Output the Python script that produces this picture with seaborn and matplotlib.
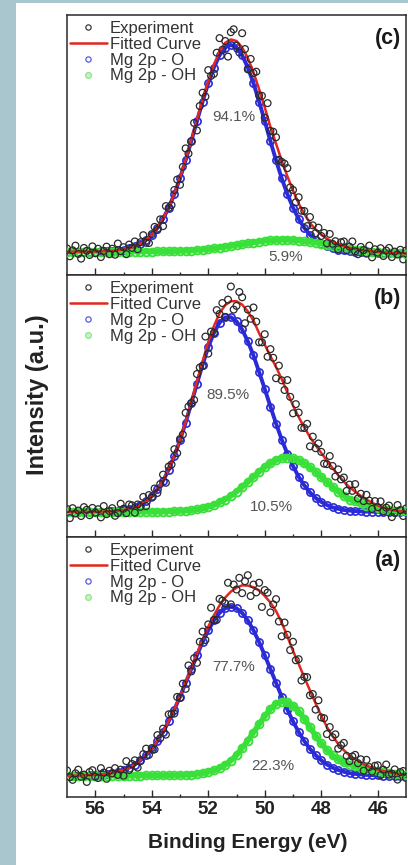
import matplotlib
matplotlib.use("Agg")
import numpy as np
import pandas as pd
import matplotlib.pyplot as plt
from matplotlib.lines import Line2D
from matplotlib.patches import Rectangle
import seaborn as sns

# ---------------- data ----------------
energy_fit = [57.0, 56.8, 56.6, 56.4, 56.2, 56.0, 55.8, 55.6, 55.4, 55.2,
              55.0, 54.8, 54.6, 54.4, 54.2, 54.0, 53.8, 53.6, 53.4, 53.2,
              53.0, 52.8, 52.6, 52.4, 52.2, 52.0, 51.8, 51.6, 51.4, 51.2,
              51.0, 50.8, 50.6, 50.4, 50.2, 50.0, 49.8, 49.6, 49.4, 49.2,
              49.0, 48.8, 48.6, 48.4, 48.2, 48.0, 47.8, 47.6, 47.4, 47.2,
              47.0, 46.8, 46.6, 46.4, 46.2, 46.0, 45.8, 45.6, 45.4, 45.2, 45.0]

energy_exp = [57.0, 56.9, 56.8, 56.7, 56.6, 56.5, 56.4, 56.3, 56.2, 56.1,
              56.0, 55.9, 55.8, 55.7, 55.6, 55.5, 55.4, 55.3, 55.2, 55.1,
              55.0, 54.9, 54.8, 54.7, 54.6, 54.5, 54.4, 54.3, 54.2, 54.1,
              54.0, 53.9, 53.8, 53.7, 53.6, 53.5, 53.4, 53.3, 53.2, 53.1,
              53.0, 52.9, 52.8, 52.7, 52.6, 52.5, 52.4, 52.3, 52.2, 52.1,
              52.0, 51.9, 51.8, 51.7, 51.6, 51.5, 51.4, 51.3, 51.2, 51.1,
              51.0, 50.9, 50.8, 50.7, 50.6, 50.5, 50.4, 50.3, 50.2, 50.1,
              50.0, 49.9, 49.8, 49.7, 49.6, 49.5, 49.4, 49.3, 49.2, 49.1,
              49.0, 48.9, 48.8, 48.7, 48.6, 48.5, 48.4, 48.3, 48.2, 48.1,
              48.0, 47.9, 47.8, 47.7, 47.6, 47.5, 47.4, 47.3, 47.2, 47.1,
              47.0, 46.9, 46.8, 46.7, 46.6, 46.5, 46.4, 46.3, 46.2, 46.1,
              46.0, 45.9, 45.8, 45.7, 45.6, 45.5, 45.4, 45.3, 45.2, 45.1, 45.0]

# panel (c)
c_exp = [10.2, 7.2, 9.5, 11.3, 8.1, 6.3, 10.4, 9.3, 7.7, 11.0,
         8.4, 10.1, 6.9, 9.3, 10.9, 8.0, 10.1, 7.8, 12.1, 9.2,
         10.7, 8.0, 11.7, 10.4, 12.9, 9.9, 12.6, 15.3, 12.4, 12.3,
         15.7, 18.5, 17.3, 21.4, 18.8, 26.5, 25.8, 26.9, 32.7, 36.7,
         34.7, 41.6, 48.7, 46.7, 51.4, 58.5, 55.6, 65.0, 70.1, 68.6,
         78.8, 76.6, 77.4, 85.5, 91.1, 86.6, 90.0, 84.0, 93.4, 94.5,
         88.2, 85.6, 93.0, 86.9, 79.1, 83.1, 77.7, 78.2, 69.1, 68.9,
         60.5, 66.1, 55.4, 55.1, 53.0, 44.3, 43.5, 42.8, 41.1, 33.7,
         32.7, 28.0, 29.9, 24.7, 24.6, 18.8, 22.3, 19.1, 16.1, 18.2,
         15.0, 16.2, 12.2, 15.8, 12.0, 13.0, 9.9, 12.6, 12.9, 9.5,
         10.9, 12.9, 9.1, 8.0, 10.8, 9.6, 8.2, 11.3, 6.8, 9.9,
         8.6, 10.3, 7.3, 9.4, 10.4, 6.9, 9.0, 7.9, 9.7, 6.0, 9.4]
c_fit = [9.0, 9.0, 9.0, 9.0, 9.0, 9.0, 9.1, 9.2, 9.3, 9.5,
         9.8, 10.3, 11.0, 12.0, 13.5, 15.4, 18.2, 21.7, 26.0, 31.3,
         37.4, 44.4, 51.9, 59.8, 67.4, 74.7, 81.0, 86.0, 89.3, 90.6,
         90.0, 87.5, 83.5, 78.0, 71.5, 64.5, 57.0, 50.5, 44.0, 38.0,
         32.5, 27.5, 23.5, 20.0, 17.5, 15.5, 14.0, 12.8, 11.9, 11.2,
         10.4, 10.0, 9.6, 9.3, 9.1, 8.9, 8.7, 8.6, 8.5, 8.4, 8.3]
c_o = [9.0, 9.0, 9.0, 9.0, 9.0, 9.0, 9.1, 9.2, 9.3, 9.5,
       9.8, 10.3, 11.0, 12.0, 13.5, 15.4, 18.1, 21.6, 25.9, 31.1,
       37.2, 44.1, 51.5, 59.2, 66.7, 73.8, 79.8, 84.5, 87.5, 88.5,
       87.5, 84.5, 79.8, 73.8, 66.7, 59.2, 51.5, 44.1, 37.2, 31.1,
       25.9, 21.6, 18.1, 15.4, 13.5, 12.0, 11.0, 10.3, 9.8, 9.5,
       9.2, 9.0, 8.9, 8.8, 8.7, 8.6, 8.5, 8.4, 8.3, 8.3, 8.2]
c_oh = [9.0, 9.0, 9.0, 9.0, 9.0, 9.0, 9.0, 9.0, 9.0, 9.0,
        9.0, 9.0, 9.0, 9.0, 9.0, 9.0, 9.1, 9.1, 9.1, 9.2,
        9.2, 9.3, 9.4, 9.6, 9.7, 9.9, 10.2, 10.5, 10.8, 11.1,
        11.5, 11.8, 12.2, 12.5, 12.8, 13.1, 13.3, 13.4, 13.5, 13.5,
        13.4, 13.2, 13.0, 12.7, 12.4, 12.0, 11.6, 11.3, 10.9, 10.6,
        10.1, 9.8, 9.5, 9.2, 9.0, 8.8, 8.6, 8.5, 8.4, 8.3, 8.2]

# panel (b)
b_exp = [10.7, 7.2, 11.0, 9.0, 10.1, 8.0, 11.4, 10.4, 8.3, 11.1,
         9.3, 10.6, 7.5, 11.8, 8.7, 9.9, 11.0, 8.1, 9.1, 12.7,
         10.8, 9.1, 12.4, 12.1, 9.3, 12.4, 11.5, 15.3, 11.8, 16.0,
         15.0, 18.5, 16.8, 20.2, 23.8, 20.7, 26.9, 27.7, 33.5, 32.0,
         37.4, 39.1, 47.4, 49.8, 51.1, 52.3, 62.2, 64.7, 65.3, 76.5,
         70.0, 78.4, 77.9, 86.6, 85.1, 89.3, 84.0, 90.6, 95.6, 86.8,
         88.2, 93.5, 91.5, 81.6, 86.8, 83.3, 87.6, 82.2, 74.3, 74.3,
         77.4, 68.8, 71.7, 68.4, 60.6, 65.4, 59.8, 56.1, 59.9, 53.5,
         47.2, 50.7, 47.5, 41.7, 41.6, 43.2, 34.6, 38.3, 33.9, 35.7,
         32.5, 28.0, 27.8, 30.9, 27.1, 23.1, 25.8, 22.0, 22.7, 17.6,
         20.0, 17.6, 20.2, 14.7, 16.5, 13.7, 16.1, 13.9, 10.7, 13.7,
         11.4, 13.6, 9.8, 11.2, 12.0, 7.6, 9.2, 12.2, 10.3, 8.0, 10.9]
b_fit = [9.6, 9.6, 9.6, 9.6, 9.6, 9.6, 9.7, 9.7, 9.8, 10.0,
         10.3, 10.7, 11.3, 12.3, 13.6, 15.5, 18.2, 21.5, 25.8, 31.1,
         37.2, 44.1, 51.6, 59.4, 67.1, 74.4, 80.5, 85.4, 88.5, 90.0,
         90.0, 88.7, 86.1, 82.6, 77.8, 73.4, 69.0, 64.9, 60.3, 55.2,
         50.2, 45.8, 41.8, 38.2, 35.0, 32.1, 29.2, 26.3, 23.6, 21.1,
         19.0, 17.3, 15.7, 14.3, 13.1, 12.0, 11.2, 10.6, 10.1, 9.8, 9.7]
b_o = [9.6, 9.6, 9.6, 9.6, 9.6, 9.6, 9.7, 9.7, 9.8, 10.0,
       10.3, 10.7, 11.3, 12.3, 13.6, 15.5, 18.2, 21.4, 25.7, 30.9,
       36.9, 43.7, 51.0, 58.5, 65.8, 72.5, 77.9, 81.8, 83.8, 83.9,
       82.3, 79.2, 74.7, 69.3, 63.0, 56.5, 49.8, 43.3, 37.2, 31.8,
       27.1, 23.0, 19.7, 17.0, 14.9, 13.4, 12.2, 11.3, 10.8, 10.3,
       10.1, 9.9, 9.8, 9.7, 9.7, 9.6, 9.6, 9.6, 9.6, 9.6, 9.6]
b_oh = [9.6, 9.6, 9.6, 9.6, 9.6, 9.6, 9.6, 9.6, 9.6, 9.6,
        9.6, 9.6, 9.6, 9.6, 9.6, 9.6, 9.6, 9.6, 9.7, 9.8,
        9.9, 10.0, 10.2, 10.5, 10.9, 11.5, 12.2, 13.2, 14.3, 15.7,
        17.3, 19.1, 21.0, 22.9, 24.9, 26.6, 28.1, 29.3, 30.1, 30.3,
        30.1, 29.3, 28.1, 26.6, 24.9, 22.9, 21.0, 19.1, 17.3, 15.7,
        14.3, 13.6, 12.8, 12.0, 11.4, 11.0, 10.6, 10.3, 10.1, 9.9, 9.8]

# panel (a)
a_exp = [10.2, 7.6, 6.6, 9.1, 10.5, 7.8, 8.6, 5.8, 9.6, 10.3,
         7.8, 7.3, 11.1, 9.4, 7.0, 10.1, 9.1, 11.1, 8.5, 10.5,
         8.2, 13.8, 10.4, 12.7, 14.1, 11.3, 13.8, 16.5, 18.6, 16.2,
         18.8, 18.3, 23.8, 22.6, 26.3, 24.0, 31.8, 31.9, 32.1, 38.5,
         38.1, 43.6, 41.6, 50.6, 48.3, 53.4, 51.6, 59.7, 63.6, 60.4,
         66.4, 72.8, 68.1, 68.1, 76.2, 75.5, 74.5, 82.4, 74.1, 81.7,
         79.8, 84.3, 78.4, 83.0, 85.3, 77.3, 81.7, 78.7, 82.4, 73.1,
         79.6, 78.6, 71.0, 74.1, 76.1, 67.5, 61.8, 67.1, 62.4, 56.5,
         59.7, 52.6, 53.0, 44.8, 46.2, 46.1, 39.1, 39.6, 33.6, 37.2,
         30.6, 30.3, 24.2, 26.9, 23.0, 24.1, 18.6, 19.9, 20.8, 15.8,
         13.8, 15.6, 16.2, 13.0, 14.5, 10.1, 14.3, 11.5, 9.8, 12.0,
         12.2, 8.4, 10.5, 12.5, 8.6, 9.0, 10.6, 6.7, 9.6, 10.0, 7.3]
a_fit = [8.2, 8.2, 8.2, 8.3, 8.4, 8.5, 8.7, 8.9, 9.2, 9.7,
         10.4, 11.3, 12.5, 14.1, 16.2, 18.6, 21.6, 25.1, 29.2, 33.8,
         38.8, 44.2, 49.6, 55.1, 60.5, 65.5, 69.9, 73.7, 76.7, 79.0,
         80.5, 81.4, 81.3, 80.7, 79.4, 77.3, 74.8, 71.5, 67.1, 61.8,
         56.2, 51.2, 46.0, 41.0, 36.0, 31.2, 27.0, 23.4, 20.4, 18.0,
         16.0, 14.5, 13.2, 12.1, 11.2, 10.5, 10.0, 9.5, 9.1, 8.8, 8.5]
a_o = [8.2, 8.2, 8.2, 8.3, 8.4, 8.5, 8.7, 8.9, 9.2, 9.7,
       10.4, 11.3, 12.5, 14.1, 16.1, 18.5, 21.5, 25.0, 29.1, 33.6,
       38.6, 43.9, 49.2, 54.5, 59.6, 64.1, 67.9, 70.8, 72.6, 73.2,
       72.6, 70.8, 67.9, 64.1, 59.6, 54.5, 49.2, 43.9, 38.6, 33.6,
       29.1, 25.0, 21.5, 18.5, 16.1, 14.1, 12.5, 11.3, 10.4, 9.7,
       9.2, 8.9, 8.7, 8.5, 8.4, 8.3, 8.2, 8.2, 8.2, 8.2, 8.2]
a_oh = [8.2, 8.2, 8.2, 8.2, 8.2, 8.2, 8.2, 8.2, 8.2, 8.2,
        8.2, 8.2, 8.2, 8.2, 8.3, 8.3, 8.3, 8.3, 8.3, 8.4,
        8.4, 8.5, 8.6, 8.8, 9.1, 9.6, 10.2, 11.1, 12.3, 14.0,
        16.1, 18.8, 21.6, 24.8, 28.0, 31.0, 33.8, 35.8, 36.7, 36.4,
        35.1, 32.9, 30.1, 26.8, 23.6, 20.6, 18.1, 16.0, 14.5, 13.3,
        12.5, 11.8, 11.2, 10.7, 10.3, 10.0, 9.6, 9.3, 9.0, 8.8, 8.6]

legend_labels = ["Experiment", "Fitted Curve", "Mg 2p - O", "Mg 2p - OH"]
x_major_ticks = [56, 54, 52, 50, 48, 46]
x_minor_ticks = [55, 53, 51, 49, 47]

for arr in (c_exp, b_exp, a_exp):
    assert len(arr) == len(energy_exp)
for arr in (c_fit, c_o, c_oh, b_fit, b_o, b_oh, a_fit, a_o, a_oh):
    assert len(arr) == len(energy_fit)

# ---------------- style ----------------
sns.set_style("ticks")
plt.rcParams["font.family"] = ["Liberation Sans", "DejaVu Sans"]

RED = "#e3261f"
BLUE = "#2a2ad6"
GREEN = "#3ae03a"
DARK = "#2a2a2a"

W, H = 408, 865
fig = plt.figure(figsize=(W / 100, H / 100), dpi=100, facecolor="white")
fig.patches.append(Rectangle((0, 0), 16 / W, 1, transform=fig.transFigure,
                             facecolor="#a9c6cf", edgecolor="none", zorder=0))
fig.patches.append(Rectangle((0, 1 - 3 / H), 1, 3 / H, transform=fig.transFigure,
                             facecolor="#a9c6cf", edgecolor="none", zorder=0))

panels = [
    ("(c)", 15, 275, c_exp, c_fit, c_o, c_oh, ("94.1%", 51.10, 60.8), ("5.9%", 49.25, 6.9)),
    ("(b)", 275, 537, b_exp, b_fit, b_o, b_oh, ("89.5%", 51.31, 54.2), ("10.5%", 49.75, 11.5)),
    ("(a)", 537, 797, a_exp, a_fit, a_o, a_oh, ("77.7%", 51.10, 50.0), ("22.3%", 49.71, 11.9)),
]

for k, (tag, top, bot, exp_v, fit_v, o_v, oh_v, txt1, txt2) in enumerate(panels):
    ax = fig.add_axes([67 / W, 1 - bot / H, (406 - 67) / W, (bot - top) / H])
    ax.set_facecolor("white")

    df_exp = pd.DataFrame({"energy": energy_exp, "intensity": exp_v})
    df_fit = pd.DataFrame({"energy": energy_fit, "fit": fit_v, "o": o_v, "oh": oh_v})

    sns.lineplot(data=df_fit, x="energy", y="o", ax=ax, color=BLUE, lw=2.8,
                 marker="o", markersize=5.2, markerfacecolor="none",
                 markeredgecolor=BLUE, markeredgewidth=1.2,
                 estimator=None, errorbar=None, zorder=2)
    sns.lineplot(data=df_fit, x="energy", y="oh", ax=ax, color=GREEN, lw=4.0,
                 marker="o", markersize=5.6, markerfacecolor="none",
                 markeredgecolor=GREEN, markeredgewidth=1.4,
                 estimator=None, errorbar=None, zorder=3)
    sns.lineplot(data=df_fit, x="energy", y="fit", ax=ax, color=RED, lw=1.8,
                 estimator=None, errorbar=None, zorder=4)
    sns.scatterplot(data=df_exp, x="energy", y="intensity", ax=ax, s=24,
                    facecolor="none", edgecolor=DARK, linewidth=0.9,
                    zorder=5, legend=False)

    ax.set_xlim(57, 45)
    ax.set_ylim(0, 100)
    ax.set_yticks([])
    ax.set_xticks(x_major_ticks)
    ax.set_xticks(x_minor_ticks, minor=True)
    ax.set_xlabel("")
    ax.set_ylabel("")
    ax.tick_params(axis="x", which="major", direction="in", length=5, width=1.0,
                   color=DARK, top=False, bottom=True, labelsize=13.5, pad=3,
                   labelcolor="#222222", labelbottom=(k == 2))
    ax.tick_params(axis="x", which="minor", direction="in", length=2.5, width=1.0,
                   color=DARK, top=False, bottom=True)
    for lab in ax.get_xticklabels():
        lab.set_fontweight("bold")
    for sp in ax.spines.values():
        sp.set_visible(True)
        sp.set_linewidth(1.1)
        sp.set_color(DARK)

    handles = [
        Line2D([], [], ls="none", marker="o", ms=3.8, mfc="none", mec="#3a3a3a", mew=0.9),
        Line2D([], [], color=RED, lw=1.8),
        Line2D([], [], ls="none", marker="o", ms=3.8, mfc="none", mec="#5a5ad8", mew=0.9),
        Line2D([], [], ls="none", marker="o", ms=4.2, mfc="#c4f2c4", mec="#8fe68f", mew=0.9),
    ]
    leg = ax.legend(handles, legend_labels, loc="upper left",
                    bbox_to_anchor=(0.009, 0.977), frameon=False, fontsize=12,
                    handlelength=2.2, handletextpad=0.2, labelspacing=0.05,
                    borderpad=0, borderaxespad=0)
    for t in leg.get_texts():
        t.set_color("#333333")

    ax.text(0.985, 0.91, tag, transform=ax.transAxes, ha="right", va="center",
            fontsize=15.5, fontweight="bold", color="#1a1a1a")
    for (s, ex, uy) in (txt1, txt2):
        ax.text(ex, uy, s, ha="center", va="center", fontsize=11, color="#555555",
                zorder=6)

fig.text(247.5 / W, 1 - 842 / H, "Binding Energy (eV)", ha="center", va="center",
         fontsize=15, fontweight="bold", color="#222222")
fig.text(38 / W, 1 - 395 / H, "Intensity (a.u.)", ha="center", va="center",
         rotation=90, fontsize=17, fontweight="bold", color="#222222")

fig.savefig("out.png", dpi=100, facecolor="white")
